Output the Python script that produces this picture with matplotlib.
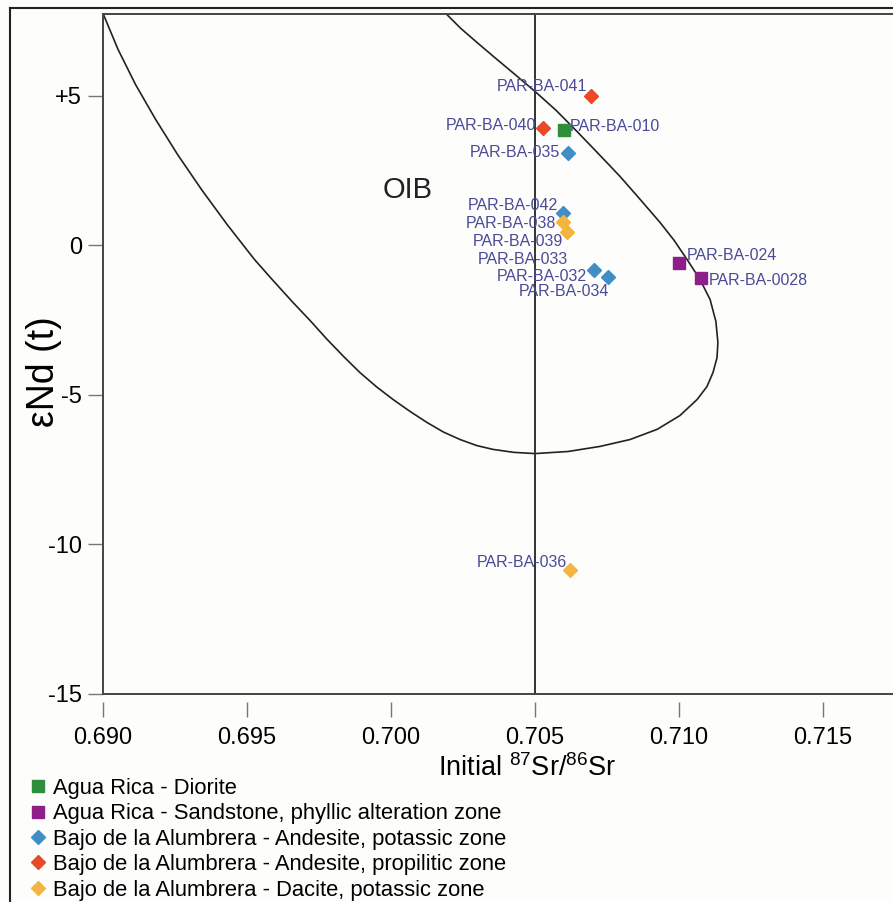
import matplotlib
matplotlib.use("Agg")
import matplotlib.pyplot as plt
from matplotlib.lines import Line2D

plt.rcParams['font.family'] = ['Liberation Sans', 'DejaVu Sans']
plt.rcParams['mathtext.fontset'] = 'custom'
plt.rcParams['mathtext.rm'] = 'Liberation Sans'
plt.rcParams['mathtext.it'] = 'Liberation Sans'
plt.rcParams['axes.unicode_minus'] = False

# sample groups
diorite_sr = [0.7060]
diorite_nd = [3.85]
sandstone_sr = [0.7100, 0.71075]
sandstone_nd = [-0.60, -1.10]
andesite_k_sr = [0.70616, 0.70596, 0.70706, 0.70752]
andesite_k_nd = [3.10, 1.07, -0.83, -1.05]
andesite_p_sr = [0.70693, 0.70529]
andesite_p_nd = [5.00, 3.94]
dacite_sr = [0.70596, 0.70610, 0.70622]
dacite_nd = [0.78, 0.44, -10.86]

# sample name labels
label_text = ["PAR-BA-041", "PAR-BA-040", "PAR-BA-010", "PAR-BA-035", "PAR-BA-042",
              "PAR-BA-038", "PAR-BA-039", "PAR-BA-033", "PAR-BA-032", "PAR-BA-034",
              "PAR-BA-024", "PAR-BA-0028", "PAR-BA-036"]
label_sr = [0.70681, 0.70503, 0.70622, 0.70587, 0.70580, 0.70575, 0.70598, 0.70613,
            0.70679, 0.70758, 0.71027, 0.71102, 0.70610]
label_nd = [5.30, 4.02, 3.99, 3.12, 1.35, 0.73, 0.14, -0.47, -1.05, -1.55, -0.33, -1.16, -10.59]
label_side = ["right", "right", "left", "right", "right", "right", "right", "right",
              "right", "right", "left", "left", "right"]

oib_sr = [0.69000, 0.69052, 0.69113, 0.69183, 0.69259, 0.69342, 0.69431, 0.69526,
          0.69593, 0.69660, 0.69719, 0.69778, 0.69835, 0.69892, 0.69950, 0.70007,
          0.70066, 0.70125, 0.70182, 0.70240, 0.70297, 0.70354, 0.70427, 0.70500,
          0.70615, 0.70726, 0.70830, 0.70924, 0.71003,
          0.71063, 0.71097, 0.71118, 0.71132, 0.71135, 0.71128, 0.71108, 0.71073,
          0.71028, 0.70983, 0.70934, 0.70865, 0.70795, 0.70719, 0.70646, 0.70573,
          0.70500, 0.70434, 0.70368, 0.70302, 0.70242, 0.70190]
oib_nd = [7.76, 6.56, 5.38, 4.21, 3.04, 1.87, 0.70, -0.47,
          -1.20, -1.91, -2.51, -3.14, -3.71, -4.25, -4.73, -5.15,
          -5.55, -5.92, -6.24, -6.49, -6.69, -6.82, -6.92, -6.96,
          -6.89, -6.72, -6.49, -6.15, -5.69,
          -5.15, -4.72, -4.25, -3.75, -3.24, -2.54, -1.81, -1.14,
          -0.47, 0.17, 0.77, 1.54, 2.31, 3.08, 3.81, 4.52,
          5.15, 5.69, 6.22, 6.76, 7.26, 7.76]

yticks = [5, 0, -5, -10, -15]
ytick_labels = ["+5", "0", "-5", "-10", "-15"]
xticks = [0.690, 0.695, 0.700, 0.705, 0.710, 0.715]
xtick_labels = ["0.690", "0.695", "0.700", "0.705", "0.710", "0.715"]

bg = '#fdfdfb'
axis_col = '#444444'
label_col = '#4a4a98'

fig = plt.figure(figsize=(8.93, 9.02), dpi=100, facecolor=bg)
ax = fig.add_axes([103 / 893, 1 - 694 / 902, 1 - 103 / 893, (694 - 14) / 902])
ax.set_facecolor(bg)
ax.set_xlim(0.690, 0.71743)
ax.set_ylim(-15, 7.74)

ax.plot(oib_sr, oib_nd, color='#222222', lw=1.2, zorder=2, solid_joinstyle='round')
ax.axvline(0.705, color='#333333', lw=1.4, zorder=2)

groups = [
    ("Agua Rica - Diorite", 's', 8, '#2d8f3c', diorite_sr, diorite_nd),
    ("Agua Rica - Sandstone, phyllic alteration zone", 's', 9, '#8e1f8a', sandstone_sr, sandstone_nd),
    ("Bajo de la Alumbrera - Andesite, potassic zone", 'D', 7, '#3f8fc6', andesite_k_sr, andesite_k_nd),
    ("Bajo de la Alumbrera - Andesite, propilitic zone", 'D', 7, '#e84a27', andesite_p_sr, andesite_p_nd),
    ("Bajo de la Alumbrera - Dacite, potassic zone", 'D', 7, '#f3b440', dacite_sr, dacite_nd),
]
for name, mk, ms, col, xs, ys in groups:
    ax.plot(xs, ys, ls='none', marker=mk, ms=ms, color=col, mec=col, label=name, zorder=4)

for t, x, y, side in zip(label_text, label_sr, label_nd, label_side):
    ax.text(x, y, t, ha=side, va='center', fontsize=11.5, color=label_col, zorder=5)

ax.text(0.70056, 1.87, "OIB", ha='center', va='center', fontsize=21, color='#222222')

# axes styling
for s in ['right', 'bottom', 'top']:
    ax.spines[s].set_visible(False)
ax.spines['left'].set_color(axis_col)
ax.spines['left'].set_linewidth(1.4)
ax.spines['bottom'].set_position(('outward', 6))
ax.axhline(-15, color=axis_col, lw=1.4, clip_on=False, zorder=3)
ax.axhline(7.74, color=axis_col, lw=1.4, clip_on=False, zorder=3)

ax.set_yticks(yticks)
ax.set_yticklabels(ytick_labels)
ax.set_xticks(xticks)
ax.set_xticklabels(xtick_labels)
ax.tick_params(axis='y', length=11, width=1, color='#777777', pad=4, labelsize=17)
ax.tick_params(axis='x', length=11, width=1, color='#777777', pad=7, labelsize=17)

fig.text(527 / 893, 1 - 768 / 902, "Initial $^{87}$Sr/$^{86}$Sr", ha='center', va='center',
         fontsize=19.5)
fig.text(44 / 893, 1 - 372 / 902, "\u03b5Nd (t)", rotation=90, ha='center', va='center',
         fontsize=27)

ax.legend(loc='upper left', bbox_to_anchor=(31 / 893, 1 - 778 / 902),
          bbox_transform=fig.transFigure, frameon=False, fontsize=15.8,
          handlelength=0.6, handletextpad=0.4, labelspacing=0.2,
          borderpad=0, borderaxespad=0)

# outer frame
fig.add_artist(Line2D([10 / 893, 10 / 893], [0, 1 - 8 / 902], color='#222222', lw=1.5,
                      transform=fig.transFigure))
fig.add_artist(Line2D([10 / 893, 1], [1 - 8 / 902, 1 - 8 / 902], color='#222222', lw=1.5,
                      transform=fig.transFigure))

fig.savefig("out.png", dpi=100, facecolor=bg)
